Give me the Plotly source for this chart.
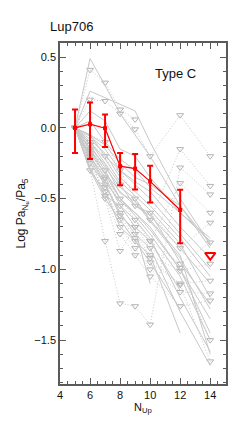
import plotly.graph_objects as go

# Mean curve (red) with asymmetric error bars
mean_n = [5, 6, 7, 8, 9, 10, 12]
mean_val = [0.0, 0.026, -0.002, -0.27, -0.288, -0.378, -0.58]
err_plus = [0.13, 0.154, 0.097, 0.093, 0.104, 0.111, 0.143]
err_minus = [0.177, 0.246, 0.133, 0.135, 0.147, 0.15, 0.235]
limit_n = [14]
limit_val = [-0.9]

# Individual sources: detections (solid)
solid_n = [
    [5, 6, 7, 8, 9, 10, 12, 14],
    [5, 6, 9, 10, 12, 14],
    [5, 6, 7, 8, 9, 10, 12, 14],
    [5, 6, 7, 8, 9, 10, 12, 14],
    [5, 6, 7, 8, 9, 10, 12, 14],
    [5, 6, 7, 8, 9, 10, 12, 14],
    [5, 6, 7, 8, 9, 10, 12],
    [5, 6, 7, 8, 9, 10, 12, 14],
    [5, 6, 7, 8, 9, 10, 12, 14],
    [5, 6, 7, 8, 9, 10, 12, 14],
    [5, 6, 7, 8, 10, 12],
    [5, 6, 7, 8, 9, 10, 12, 14],
    [5, 6, 7, 8, 9, 10],
    [5, 6, 7, 8, 9, 10, 12, 14],
    [5, 6, 7, 8, 9, 10, 12, 14],
    [5, 6, 7, 8, 9, 10, 12, 14],
    [5, 6, 7, 8, 9, 10, 12, 14],
    [5, 6, 7, 8, 9, 10, 12, 14],
    [5, 6, 7, 8, 9, 10, 12, 14],
    [5, 6, 7, 8, 9, 10, 12],
    [5, 6, 7, 8, 9, 10, 12, 14],
    [5, 6, 7, 8, 9, 10, 12, 14],
]
solid_v = [
    [0, 0.49, 0.30, 0.10, -0.05, -0.20, -0.55, -0.85],
    [0, 0.26, 0.12, -0.10, -0.50, -0.82],
    [0, 0.12, 0.05, -0.15, -0.20, -0.35, -0.60, -0.80],
    [0, -0.05, -0.20, -0.30, -0.40, -0.50, -0.75, -1.00],
    [0, -0.10, -0.25, -0.40, -0.55, -0.60, -0.95, -1.25],
    [0, -0.15, -0.30, -0.50, -0.60, -0.70, -1.00, -1.35],
    [0, -0.20, -0.35, -0.55, -0.70, -0.80, -1.15],
    [0, -0.08, -0.18, -0.35, -0.45, -0.55, -0.78, -1.05],
    [0, -0.12, -0.28, -0.42, -0.50, -0.65, -0.90, -1.60],
    [0, -0.25, -0.40, -0.60, -0.75, -0.85, -1.30, -1.68],
    [0, -0.30, -0.45, -0.70, -0.90, -1.45],
    [0, -0.18, -0.32, -0.45, -0.55, -0.62, -0.85, -1.10],
    [0, -0.22, -0.40, -0.62, -0.72, -1.10],
    [0, -0.05, -0.12, -0.25, -0.35, -0.40, -0.55, -0.82],
    [0, 0.05, -0.10, -0.22, -0.30, -0.42, -0.60, -0.78],
    [0, -0.15, -0.33, -0.50, -0.62, -0.75, -1.05, -1.50],
    [0, -0.28, -0.48, -0.55, -0.65, -0.78, -1.20, -1.58],
    [0, -0.10, -0.22, -0.38, -0.48, -0.58, -0.82, -1.20],
    [0, -0.20, -0.38, -0.52, -0.60, -0.72, -1.00, -1.45],
    [0, -0.30, -0.50, -0.65, -0.80, -0.95, -1.28],
    [0, -0.06, -0.15, -0.30, -0.38, -0.45, -0.70, -0.92],
    [0, -0.14, -0.26, -0.46, -0.52, -0.66, -0.92, -1.28],
]

# Individual sources with upper limits (dotted, triangles)
dotted_n = [
    [5, 6, 7, 8, 9],
    [5, 6, 7, 8, 9, 10, 12, 14],
    [5, 7, 8, 9, 10, 12, 14],
    [5, 6, 7, 8, 9, 10, 12, 14],
    [5, 6, 7, 8, 9, 10, 12, 14],
    [5, 6, 7, 8, 9, 10, 12, 14],
    [5, 6, 7, 8, 9, 10, 12, 14],
    [5, 6, 7, 8, 9, 10, 12, 14],
    [5, 6, 7, 8, 9, 10, 12, 14],
    [5, 6, 7, 8, 9, 10, 12, 14],
    [5, 6, 7, 8, 9, 10, 12, 14],
    [5, 6, 7, 8, 9, 10, 12, 14],
    [5, 6, 7, 8, 9, 10, 12, 14],
]
dotted_v = [
    [0, 0.41, 0.32, 0.13, 0.06],
    [0, 0.20, 0.19, 0.10, -0.01, -0.20, 0.09, -0.20],
    [0, -0.10, -0.30, -0.50, -0.65, -0.15, -0.41],
    [0, -0.30, -0.80, -1.24, -1.26, -1.39, -0.28, -0.47],
    [0, -0.20, -0.50, -0.87, -0.70, -0.80, -0.39, -0.60],
    [0, -0.10, -0.20, -0.40, -0.55, -0.60, -0.85, -0.67],
    [0, -0.15, -0.35, -0.50, -0.65, -0.80, -0.96, -0.81],
    [0, -0.20, -0.40, -0.60, -0.75, -0.90, -1.01, -0.96],
    [0, -0.25, -0.45, -0.65, -0.80, -0.95, -1.10, -1.08],
    [0, -0.18, -0.42, -0.70, -0.85, -1.00, -1.16, -1.17],
    [0, -0.22, -0.48, -0.75, -0.90, -1.05, -1.26, -1.22],
    [0, -0.12, -0.30, -0.55, -0.70, -0.85, -0.99, -1.50],
    [0, -0.16, -0.36, -0.62, -0.78, -0.92, -1.11, -1.65],
]

X_RANGE = [4, 15.05]
Y_RANGE = [-1.81, 0.6]
GRAY = "#c8c8c8"
AXC = "#5a5a5a"
FONT = "Liberation Sans, Arial, sans-serif"
fig = go.Figure()

for n, v in zip(dotted_n, dotted_v):
    fig.add_trace(go.Scatter(
        x=n, y=v, mode="lines+markers",
        line=dict(color=GRAY, width=1, dash="1px,2px"),
        marker=dict(symbol="triangle-down-open", size=6, color="#b4b4b4", line=dict(width=1)),
        showlegend=False, hoverinfo="skip"))

for n, v in zip(solid_n, solid_v):
    fig.add_trace(go.Scatter(
        x=n, y=v, mode="lines",
        line=dict(color=GRAY, width=1),
        showlegend=False, hoverinfo="skip"))

fig.add_trace(go.Scatter(
    x=mean_n, y=mean_val, mode="lines+markers",
    line=dict(color="#ff0000", width=1.2),
    marker=dict(symbol="square", size=4, color="#ff0000"),
    error_y=dict(type="data", array=err_plus, arrayminus=err_minus,
                 color="#ff0000", thickness=2, width=3),
    showlegend=False))

fig.add_trace(go.Scatter(
    x=limit_n, y=limit_val, mode="markers",
    marker=dict(symbol="triangle-down-open", size=9, color="#ff0000", line=dict(width=2)),
    showlegend=False))

axis_common = dict(
    showgrid=False, zeroline=False, showline=True, linecolor=AXC, linewidth=1.5,
    ticks="inside", tickcolor=AXC, tickwidth=1.2, mirror="allticks",
    tickfont=dict(family=FONT, size=11, color="#111111"),
)

fig.update_xaxes(
    range=X_RANGE, tickmode="array", tickvals=[4, 6, 8, 10, 12, 14],
    ticktext=["4", "6", "8", "10", "12", "14"], ticklen=6,
    minor=dict(dtick=0.5, tick0=4, ticklen=3, ticks="inside", tickcolor=AXC, tickwidth=1.2),
    title=dict(text="N<sub>Up</sub>", font=dict(family=FONT, size=11, color="#111111"), standoff=2),
    **axis_common)
fig.update_yaxes(
    range=Y_RANGE, tickmode="array", tickvals=[0.5, 0.0, -0.5, -1.0, -1.5],
    ticktext=["0.5", "0.0", "\u22120.5", "\u22121.0", "\u22121.5"], ticklen=6,
    minor=dict(dtick=0.1, tick0=0, ticklen=3, ticks="inside", tickcolor=AXC, tickwidth=1.2),
    title=dict(text="Log Pa<sub>N<sub>u</sub></sub>/Pa<sub>5</sub>", font=dict(family=FONT, size=12, color="#111111"), standoff=6),
    **axis_common)

fig.add_annotation(text="Lup706", xref="paper", yref="paper", x=-0.07, y=1.02,
                   xanchor="left", yanchor="bottom", showarrow=False,
                   font=dict(family=FONT, size=13, color="#111111"))
fig.add_annotation(text="Type C", xref="paper", yref="paper", x=0.83, y=0.91,
                   xanchor="right", yanchor="middle", showarrow=False,
                   font=dict(family=FONT, size=13, color="#111111"))

# page body has an 8px default margin: shrink figure so plot box lands at x 60-228, y 43-384
fig.update_layout(
    width=232, height=420,
    margin=dict(l=52, r=12, t=35, b=44),
    paper_bgcolor="white", plot_bgcolor="white",
    font=dict(family=FONT),
)

fig.write_html("out.html")
